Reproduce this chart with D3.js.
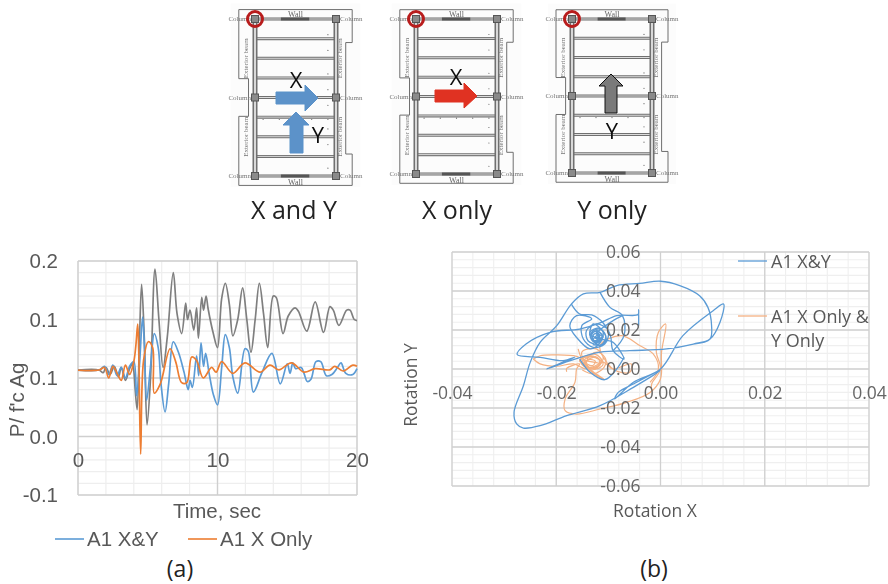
<!DOCTYPE html>
<html>
<head>
<meta charset="utf-8">
<script src="https://d3js.org/d3.v7.min.js"></script>
<title>Rotation response</title>
<style>
html, body { margin: 0; padding: 0; background: #fff; }
svg { display: block; }
text { fill: #595959; }
</style>
</head>
<body>
<svg id="chart" width="888" height="584"></svg>
<script>
// panel (a) - axis
var timeTicks = [0, 10, 20];
var ratioTicks = [-0.05, 0, 0.05, 0.10, 0.15];
var ratioLabels = ["-0.1", "0.0", "0.1", "0.1", "0.2"];

// panel (a) - series
var greyT = [0,1.5,1.8,2.0,2.3,2.6,2.9,3.1,3.4,3.7,3.9,4.0,4.1,4.24,4.4,4.56,4.75,4.95,5.2,5.52,5.8,6.1,6.4,6.83,7.1,7.43,7.72,7.85,8.03,8.3,8.5,8.63,8.87,9.0,9.18,9.33,9.7,10.0,10.3,10.56,10.85,11.1,11.45,11.8,12.1,12.4,12.7,13.0,13.3,13.6,14.0,14.2,14.7,15.07,15.56,15.8,16.4,17.0,17.6,18.06,18.3,18.7,19.26,19.5,19.8,20];
var greyV = [0.0568,0.0568,0.0545,0.0590,0.0530,0.0600,0.0510,0.0590,0.0480,0.0580,0.0620,0.0560,0.0400,0.0230,0.0800,0.1300,0.0850,0.0100,0.0500,0.1430,0.1000,0.0590,0.0850,0.1400,0.1050,0.0880,0.1140,0.1000,0.1080,0.0910,0.1100,0.0840,0.1190,0.1080,0.1200,0.1090,0.0880,0.0760,0.1180,0.1310,0.1130,0.0860,0.1000,0.1270,0.1000,0.0720,0.1000,0.1310,0.1050,0.0760,0.1200,0.1190,0.0880,0.1030,0.1100,0.1070,0.0900,0.1150,0.0890,0.1110,0.1080,0.0950,0.1080,0.1080,0.1000,0.0990];

var blueT = [0,1.5,1.9,2.2,2.5,2.8,3.1,3.4,3.7,4.0,4.2,4.4,4.63,4.75,4.92,5.2,5.47,5.75,5.95,6.24,6.5,6.83,7.2,7.6,7.9,8.03,8.2,8.5,8.65,8.82,9.0,9.15,9.4,9.7,10.0,10.3,10.56,10.85,11.1,11.45,11.97,12.2,12.57,13.2,13.9,14.5,15.0,15.2,15.4,15.6,16.0,16.2,16.44,16.7,17.06,17.4,17.8,18.2,18.6,18.85,19.2,19.7,20];
var blueV = [0.0568,0.0568,0.0600,0.0530,0.0610,0.0520,0.0590,0.0500,0.0600,0.0640,0.0350,0.0600,0.1020,0.0800,0.0310,0.0600,0.0880,0.0760,0.0450,0.0210,0.0450,0.0810,0.0720,0.0550,0.0400,0.0480,0.0420,0.0690,0.0520,0.0800,0.0600,0.0710,0.0540,0.0360,0.0270,0.0590,0.0870,0.0760,0.0510,0.0370,0.0750,0.0730,0.0380,0.0550,0.0710,0.0450,0.0620,0.0540,0.0630,0.0580,0.0590,0.0540,0.0470,0.0490,0.0640,0.0640,0.0520,0.0530,0.0590,0.0630,0.0540,0.0530,0.0580];

var orangeT = [0,1.5,1.9,2.2,2.5,2.8,3.1,3.4,3.7,4.0,4.15,4.28,4.36,4.49,4.7,5.04,5.35,5.47,5.9,6.6,7.0,7.43,7.8,8.15,8.5,8.98,9.58,9.9,10.3,11.1,11.97,13.05,13.76,14.4,15.3,16.2,17.0,18.06,18.4,19.0,19.7,20];
var orangeV = [0.0568,0.0568,0.0590,0.0500,0.0600,0.0540,0.0480,0.0610,0.0530,0.0640,0.0780,0.0960,0.0700,-0.0150,0.0650,0.0810,0.0760,0.0370,0.0450,0.0750,0.0640,0.0460,0.0460,0.0680,0.0650,0.0500,0.0590,0.0550,0.0640,0.0540,0.0630,0.0550,0.0610,0.0570,0.0630,0.0550,0.0580,0.0570,0.0600,0.0560,0.0610,0.0600];

// panel (b) - axis
var rotXTicks = [-0.04, -0.02, 0, 0.02, 0.04];
var rotXLabels = ["-0.04", "-0.02", "0.00", "0.02", "0.04"];
var rotYTicks = [-0.06, -0.04, -0.02, 0, 0.02, 0.04, 0.06];
var rotYLabels = ["-0.06", "-0.04", "-0.02", "0.00", "0.02", "0.04", "0.06"];

// panel (b) - loops [rotation x, rotation y]
var blueOuter = [[-.0042,.0222],[-.0042,.0304],[-.0043,.0279],[-.0084,.0274],[-.0116,.0236],[-.0155,.0205],[-.0212,.0188],[-.0258,.0128],[-.0275,.0074],[-.0231,.0060],[-.0187,.0043],[-.0164,.0060],[-.0219,0],[-.0167,.0048],[-.0116,.0086],[-.0059,.0094],[.0012,.0103],[.0063,.0128],[.0095,.0154],[.0114,.0239],[.0121,.0333],[.0101,.0299],[.0043,.0171],[0,0],[-.0052,-.0068],[-.0088,-.0154],[-.0081,-.0120],[-.0052,-.0077],[-.0001,-.0009],[-.0052,-.0094],[-.0116,-.0188],[-.0180,-.0239],[-.0231,-.0291],[-.0263,-.0303],[-.0276,-.0282],[-.0281,-.0222],[-.0263,-.0086],[-.0250,.0034],[-.0231,.0137],[-.0199,.0222],[-.0171,.0333],[-.0148,.0385],[-.0116,.0393],[-.0084,.0428],[-.0040,.0439],[0,.0450],[.0037,.0428],[.0075,.0376],[.0091,.0316],[.0098,.0222],[.0095,.0154],[.0063,.0128]];
var blueInner = [[-.0171,.0333],[-.0155,.0282],[-.0132,.0277],[-.0110,.0236],[-.0096,.0171],[-.0091,.0094],[-.0070,.0051],[-.0091,.0137],[-.0116,.0154],[-.0135,.0180],[-.0129,.0231],[-.0110,.0188],[-.0119,.0128],[-.0139,.0145],[-.0142,.0197],[-.0123,.0231],[-.0100,.0197],[-.0107,.0128],[-.0129,.0111],[-.0148,.0154],[-.0151,.0222],[-.0132,.0257],[-.0161,.0274],[-.0174,.0222],[-.0161,.0162],[-.0135,.0103],[-.0116,.0137],[-.0123,.0188],[-.0116,.0171],[-.0129,.0154],[-.0116,.0120],[-.0104,.0154],[-.0116,.0205],[-.0132,.0188],[-.0126,.0137],[-.0110,.0171],[-.0123,.0180],[-.0091,.0248],[-.0073,.0274]];
var blueBranch = [[-.0116,.0393],[-.0097,.0316],[-.0073,.0274],[-.0070,.0171],[-.0091,.0094]];
var blueRing = [[-.0155,.0051],[-.0135,-.0017],[-.0107,-.0055],[-.0084,0],[-.0070,.0060]];
var blueTangle = [[-.0123,.0200],[-.0112,.0175],[-.0120,.0140],[-.0133,.0155],[-.0128,.0190],[-.0115,.0185],[-.0112,.0150],[-.0126,.0135],[-.0135,.0170],[-.0124,.0195],[-.0110,.0165],[-.0118,.0145],[-.0130,.0150],[-.0127,.0180],[-.0118,.0175],[-.0120,.0155],[-.0125,.0160],[-.0122,.0172],[-.0116,.0160],[-.0128,.0145],[-.0136,.0185],[-.0118,.0210],[-.0105,.0170],[-.0113,.0125],[-.0130,.0125]];

var peachOuter = [[-.0180,-.0014],[-.0180,.0003],[-.0155,.0026],[-.0161,0],[-.0164,-.0068],[-.0183,-.0154],[-.0183,-.0214],[-.0161,-.0231],[-.0116,-.0205],[-.0065,-.0171],[-.0020,-.0120],[0,-.0051],[.0002,.0086],[.0010,.0231],[-.0004,.0188],[-.0008,.0086],[0,0],[-.0017,-.0077],[-.0017,-.0111]];
var peachLeft = [[-.0244,.0051],[-.0231,.0068],[-.0199,.0072],[-.0161,.0065],[-.0142,.0043],[-.0116,.0026],[-.0142,0],[-.0167,.0026],[-.0199,.0014],[-.0231,.0026],[-.0244,.0051]];
var peachCore = [[-.0158,.0103],[-.0148,.0034],[-.0123,-.0034],[-.0107,-.0055],[-.0135,0],[-.0151,.0086],[-.0123,.0103],[-.0110,.0051],[-.0135,.0009],[-.0155,.0043],[-.0132,.0068],[-.0110,.0026],[-.0123,0],[-.0145,.0026],[-.0129,.0060],[-.0104,.0026],[-.0091,0],[-.0056,.0026],[-.0059,-.0017],[-.0091,0],[-.0116,.0120],[-.0075,.0171],[-.0040,.0120],[-.0014,.0077],[-.0004,0],[-.0020,-.0068]];
var peachTangle = [[-.0150,.0060],[-.0125,.0075],[-.0112,.0040],[-.0125,.0005],[-.0145,.0015],[-.0155,.0045],[-.0135,.0065],[-.0118,.0050],[-.0120,.0015],[-.0140,.0005],[-.0152,.0030],[-.0140,.0058],[-.0122,.0060],[-.0115,.0025],[-.0132,-.0005],[-.0148,.0022],[-.0138,.0048],[-.0125,.0040],[-.0130,.0018],[-.0142,.0030],[-.0133,.0075],[-.0118,.0085],[-.0105,.0050],[-.0108,.0010],[-.0128,-.0025],[-.0150,-.0005]];

var svg = d3.select("#chart");

var defs = svg.append("defs");
defs.append("filter").attr("id", "soft").append("feGaussianBlur").attr("stdDeviation", 0.6);
defs.append("filter").attr("id", "softer").append("feGaussianBlur").attr("stdDeviation", 0.35);

// ---------- floor plan sketches ----------
var beamFractions = [0, 0.125, 0.25, 0.375, 0.5, 0.625, 0.75, 0.875, 1];

function floorPlan(left, right, top, bottom) {
	var g = svg.append("g").attr("filter", "url(#soft)");
	var w = right - left, h = bottom - top;
	var fx = d3.scaleLinear().domain([0, 1]).range([left, right]);
	var fy = d3.scaleLinear().domain([0, 1]).range([top, bottom]);
	g.append("rect").attr("x", fx(-0.3)).attr("y", fy(-0.1)).attr("width", w * 1.6).attr("height", h * 1.17).attr("fill", "#fcfcfc");

	var outline = [[-0.2,-0.06],[1.2,-0.06],[1.2,0.15],[1.12,0.15],[1.12,0.86],[1.2,0.86],[1.2,1.06],[-0.2,1.06],[-0.2,0.62],[-0.08,0.62],[-0.08,0.38],[-0.2,0.38]];
	g.append("path")
		.attr("d", d3.line().x(function(d){ return fx(d[0]); }).y(function(d){ return fy(d[1]); }).curve(d3.curveLinearClosed)(outline))
		.attr("fill", "none").attr("stroke", "#6e6e6e").attr("stroke-width", 1);

	// beams
	beamFractions.forEach(function(f){
		g.append("line").attr("x1", fx(0)).attr("x2", fx(1)).attr("y1", fy(f)).attr("y2", fy(f)).attr("stroke", "#6f6f6f").attr("stroke-width", 3);
		g.append("line").attr("x1", fx(0)).attr("x2", fx(1)).attr("y1", fy(f)).attr("y2", fy(f)).attr("stroke", "#dcdcdc").attr("stroke-width", 1);
	});
	[0, 1].forEach(function(f){
		g.append("line").attr("x1", fx(f)).attr("x2", fx(f)).attr("y1", fy(0)).attr("y2", fy(1)).attr("stroke", "#6f6f6f").attr("stroke-width", 5);
		g.append("line").attr("x1", fx(f)).attr("x2", fx(f)).attr("y1", fy(0)).attr("y2", fy(1)).attr("stroke", "#d8d8d8").attr("stroke-width", 2);
	});
	// walls
	[0, 1].forEach(function(f){
		g.append("rect").attr("x", fx(0.32)).attr("width", w * 0.35).attr("y", fy(f) - 1.5).attr("height", 3).attr("fill", "#555");
		g.append("text").attr("x", fx(0.5)).attr("y", f === 0 ? fy(f) - 2 : fy(f) + 9).attr("text-anchor", "middle")
			.style("font-family", "Liberation Serif").style("font-size", "8px").style("fill", "#666").text("Wall");
	});
	// columns
	[0, 0.5, 1].forEach(function(fr){
		[0, 1].forEach(function(fc){
			g.append("rect").attr("x", fx(fc) - 3.5).attr("y", fy(fr) - 3.5).attr("width", 7).attr("height", 7)
				.attr("fill", "#8a8a8a").attr("stroke", "#555").attr("stroke-width", 1);
			g.append("text").attr("x", fc === 0 ? fx(fc) - 4 : fx(fc) + 4).attr("y", fy(fr) + 2).attr("text-anchor", fc === 0 ? "end" : "start")
				.style("font-family", "Liberation Serif").style("font-size", "7px").style("fill", "#777").text("Column");
		});
	});
	// exterior beam notes
	[[-0.09, 0.25], [-0.09, 0.75], [1.08, 0.25], [1.08, 0.75]].forEach(function(p){
		g.append("text").attr("transform", "translate(" + fx(p[0]) + "," + fy(p[1]) + ") rotate(-90)").attr("text-anchor", "middle")
			.style("font-family", "Liberation Serif").style("font-size", "7px").style("fill", "#777").text("Exterior beam");
	});
	// grid dots
	var dots = [];
	[0.1, 0.3, 0.5, 0.7, 0.9].forEach(function(dx){ dots.push([dx, 0.64]); });
	[0.1, 0.2, 0.35, 0.45, 0.55, 0.7, 0.8, 0.95].forEach(function(dy){ dots.push([0.9, dy]); });
	g.selectAll("circle.dot").data(dots).enter().append("circle")
		.attr("cx", function(d){ return fx(d[0]); }).attr("cy", function(d){ return fy(d[1]); }).attr("r", 0.6).attr("fill", "#666");

	g.append("circle").attr("cx", fx(0)).attr("cy", fy(0)).attr("r", 7.5).attr("fill", "none").attr("stroke", "#b81d1d").attr("stroke-width", 3);
}

function arrow(points, fill, stroke) {
	svg.append("polygon").attr("points", points.map(function(p){ return p.join(","); }).join(" "))
		.attr("fill", fill).attr("stroke", stroke).attr("stroke-width", 1).attr("filter", "url(#softer)");
}
function bigLetter(x, y, s) {
	svg.append("text").attr("x", x).attr("y", y).attr("text-anchor", "middle").attr("filter", "url(#softer)")
		.style("font-family", "Open Sans").style("font-size", "22px").style("fill", "#111").text(s);
}

floorPlan(255, 336, 19, 176);
floorPlan(416, 497, 19, 174);
floorPlan(572, 652, 19, 173);

arrow([[276,92],[305,92],[305,85],[318,98],[305,111],[305,104],[276,104]], "#5b92c9", "#5b92c9");
arrow([[290,153],[303,153],[303,125],[309,125],[296,112],[283,125],[290,125]], "#5b92c9", "#5b92c9");
arrow([[435,90],[464,90],[464,83],[477,96],[464,108],[464,102],[435,102]], "#e03020", "#e03020");
arrow([[605,113],[617,113],[617,86],[623,86],[611,74],[599,86],[605,86]], "#7a7a7a", "#111");

bigLetter(296, 88, "X");
bigLetter(318, 143, "Y");
bigLetter(456, 85, "X");
bigLetter(612, 139, "Y");

var captions = [["X and Y", 294], ["X only", 457], ["Y only", 612]];
captions.forEach(function(c){
	svg.append("text").attr("x", c[1]).attr("y", 219).attr("text-anchor", "middle").attr("filter", "url(#softer)")
		.style("font-family", "Open Sans").style("font-size", "25px").style("fill", "#222").text(c[0]);
});

// ---------- panel (a) ----------
var ax = d3.scaleLinear().domain([0, 20]).range([78, 357]);
var ay = d3.scaleLinear().domain([-0.05, 0.15]).range([495, 261]);
var pa = svg.append("g").attr("filter", "url(#softer)");

pa.selectAll("line.minorx").data(d3.range(0, 20.01, 2)).enter().append("line")
	.attr("x1", ax).attr("x2", ax).attr("y1", ay(-0.05)).attr("y2", ay(0.15)).attr("stroke", "#eeeeee").attr("stroke-width", 1.2);
pa.selectAll("line.minory").data(d3.range(-0.05, 0.1501, 0.01)).enter().append("line")
	.attr("x1", ax(0)).attr("x2", ax(20)).attr("y1", ay).attr("y2", ay).attr("stroke", "#eeeeee").attr("stroke-width", 1.2);
pa.selectAll("line.majorx").data(timeTicks).enter().append("line")
	.attr("x1", ax).attr("x2", ax).attr("y1", ay(-0.05)).attr("y2", ay(0.15)).attr("stroke", "#cfcfcf").attr("stroke-width", 1.4);
pa.selectAll("line.majory").data(ratioTicks).enter().append("line")
	.attr("x1", ax(0)).attr("x2", ax(20)).attr("y1", ay).attr("y2", ay).attr("stroke", "#cfcfcf").attr("stroke-width", 1.4);

var seriesLine = d3.line().x(function(d){ return ax(d[0]); }).y(function(d){ return ay(d[1]); }).curve(d3.curveCatmullRom.alpha(0.5));
[[greyT, greyV, "#7f7f7f"], [blueT, blueV, "#5b9bd5"], [orangeT, orangeV, "#ed7d31"]].forEach(function(s){
	pa.append("path").datum(d3.zip(s[0], s[1])).attr("d", seriesLine)
		.attr("fill", "none").attr("stroke", s[2]).attr("stroke-width", 1.7).attr("stroke-linejoin", "round");
});

var axX = d3.axisBottom(ax).tickValues(timeTicks).tickSize(0).tickPadding(16).tickFormat(d3.format("d"));
var gAx = pa.append("g").attr("transform", "translate(0," + ay(0) + ")").call(axX);
var axY = d3.axisLeft(ay).tickValues(ratioTicks).tickSize(0).tickPadding(20).tickFormat(function(d, i){ return ratioLabels[i]; });
var gAy = pa.append("g").attr("transform", "translate(" + ax(0) + ",0)").call(axY);
[gAx, gAy].forEach(function(g){
	g.select(".domain").remove();
	g.selectAll("text").style("font-family", "Liberation Sans").style("font-size", "20.5px").style("fill", "#595959");
});

function label(parent, x, y, s, family, size, anchor, rot) {
	var t = parent.append("text").attr("text-anchor", anchor || "start").style("font-family", family).style("font-size", size + "px");
	if (rot) t.attr("transform", "translate(" + x + "," + y + ") rotate(" + rot + ")");
	else t.attr("x", x).attr("y", y);
	return t.text(s);
}

label(pa, 217, 518, "Time, sec", "Liberation Sans", 20.5, "middle");
label(pa, 24, 400, "P/ f'c Ag", "Liberation Sans", 20.5, "middle", -90);
pa.append("line").attr("x1", 55).attr("x2", 84).attr("y1", 539).attr("y2", 539).attr("stroke", "#5b9bd5").attr("stroke-width", 1.6);
label(pa, 87, 546, "A1 X&Y", "Liberation Sans", 20.5);
pa.append("line").attr("x1", 188).attr("x2", 217).attr("y1", 539).attr("y2", 539).attr("stroke", "#ed7d31").attr("stroke-width", 1.6);
label(pa, 220, 546, "A1 X Only", "Liberation Sans", 20.5);
label(svg, 180, 577, "(a)", "Open Sans", 23, "middle").style("fill", "#222");

// ---------- panel (b) ----------
var bx = d3.scaleLinear().domain([-0.04, 0.04]).range([452, 869]);
var by = d3.scaleLinear().domain([-0.06, 0.06]).range([486, 252]);
var pb = svg.append("g").attr("filter", "url(#softer)");

pb.selectAll("line.minorx").data(d3.range(-0.04, 0.0401, 0.004)).enter().append("line")
	.attr("x1", bx).attr("x2", bx).attr("y1", by(-0.06)).attr("y2", by(0.06)).attr("stroke", "#efefef").attr("stroke-width", 1.1);
pb.selectAll("line.minory").data(d3.range(-0.06, 0.0601, 0.004)).enter().append("line")
	.attr("x1", bx(-0.04)).attr("x2", bx(0.04)).attr("y1", by).attr("y2", by).attr("stroke", "#efefef").attr("stroke-width", 1.1);
pb.selectAll("line.majorx").data(rotXTicks).enter().append("line")
	.attr("x1", bx).attr("x2", bx).attr("y1", by(-0.06)).attr("y2", by(0.06)).attr("stroke", "#d0d0d0").attr("stroke-width", 1.3);
pb.selectAll("line.majory").data(rotYTicks).enter().append("line")
	.attr("x1", bx(-0.04)).attr("x2", bx(0.04)).attr("y1", by).attr("y2", by).attr("stroke", "#d0d0d0").attr("stroke-width", 1.3);

var loopLine = d3.line().x(function(d){ return bx(d[0]); }).y(function(d){ return by(d[1]); }).curve(d3.curveCatmullRom.alpha(0.5));
[peachOuter, peachLeft, peachCore, peachTangle].forEach(function(p){
	pb.append("path").datum(p).attr("d", loopLine).attr("fill", "none").attr("stroke", "#f4b183").attr("stroke-width", 1.2);
});
[blueOuter, blueInner, blueBranch, blueRing, blueTangle].forEach(function(p){
	pb.append("path").datum(p).attr("d", loopLine).attr("fill", "none").attr("stroke", "#5b9bd5").attr("stroke-width", 1.3);
});

var bxAxis = d3.axisBottom(bx).tickValues(rotXTicks).tickSize(0).tickPadding(18).tickFormat(function(d, i){ return rotXLabels[i]; });
var gBx = pb.append("g").attr("transform", "translate(0," + by(0) + ")").call(bxAxis);
var byAxis = d3.axisLeft(by).tickValues(rotYTicks).tickSize(0).tickPadding(20).tickFormat(function(d, i){ return rotYLabels[i]; });
var gBy = pb.append("g").attr("transform", "translate(" + bx(0) + ",0)").call(byAxis);
[gBx, gBy].forEach(function(g){
	g.select(".domain").remove();
	g.selectAll("text").style("font-family", "Open Sans").style("font-size", "17.5px").style("fill", "#666");
});

label(pb, 655, 517, "Rotation X", "Open Sans", 17.5, "middle");
label(pb, 417, 385, "Rotation Y", "Open Sans", 17.5, "middle", -90);
pb.append("line").attr("x1", 738).attr("x2", 767).attr("y1", 261).attr("y2", 261).attr("stroke", "#5b9bd5").attr("stroke-width", 1.3);
label(pb, 771, 268, "A1 X&Y", "Open Sans", 18);
pb.append("line").attr("x1", 738).attr("x2", 767).attr("y1", 316).attr("y2", 316).attr("stroke", "#f4b183").attr("stroke-width", 1.3);
label(pb, 771, 323, "A1 X Only &", "Open Sans", 18);
label(pb, 771, 347, "Y Only", "Open Sans", 18);
label(svg, 654, 577, "(b)", "Open Sans", 23, "middle").style("fill", "#222");
</script>
</body>
</html>
